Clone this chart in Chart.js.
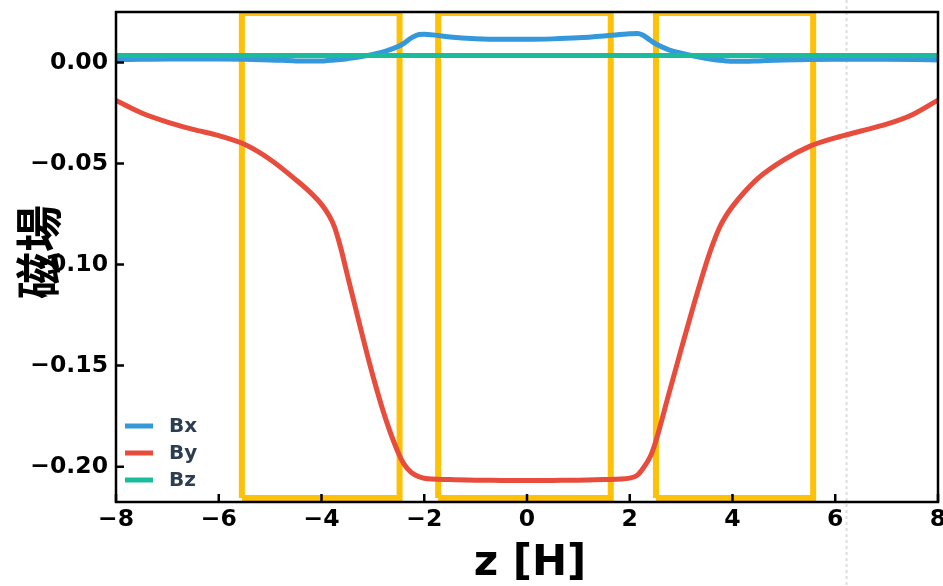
<!DOCTYPE html>
<html>
<head>
<meta charset="utf-8">
<script src="https://cdn.jsdelivr.net/npm/chart.js@4.4.1/dist/chart.umd.min.js"></script>
<style>
  html, body { margin: 0; padding: 0; background: #fff; }
  #wrap { width: 943px; height: 586px; position: relative; }
</style>
</head>
<body>
<div id="wrap"><canvas id="field-chart"></canvas></div>
<script>
// sample positions along z [H]
const zGrid = [-8, -7.5, -7, -6.5, -6, -5.5, -5, -4.5, -4.25, -4, -3.875, -3.75, -3.625, -3.5, -3.25, -3, -2.75,
  -2.5, -2.4, -2.25, -2.1, -2, -1.5, -1, -0.5, 0, 0.5, 1, 1.5, 2, 2.15, 2.25, 2.4, 2.5, 2.75, 3, 3.25, 3.5,
  3.625, 3.75, 3.875, 4, 4.25, 4.5, 5, 5.5, 6, 6.5, 7, 7.5, 8];

const bxValues = [0.0015, 0.0016, 0.0017, 0.0017, 0.0017, 0.0016, 0.0013, 0.0008, 0.0007, 0.0008, 0.0010, 0.0012,
  0.0015, 0.0019, 0.0028, 0.0040, 0.0056,
  0.0080, 0.0095, 0.0122, 0.0139, 0.0140, 0.0126, 0.0118, 0.0115, 0.0115, 0.0117, 0.0122, 0.0131, 0.0142, 0.0144,
  0.0136, 0.0110, 0.0093, 0.0064, 0.0046, 0.0032, 0.0020,
  0.0015, 0.0011, 0.0008, 0.0006, 0.0006, 0.0008, 0.0012, 0.0015, 0.0016, 0.0016, 0.0016, 0.0015, 0.0013];

const byValues = [-0.0188, -0.0250, -0.0295, -0.0331, -0.0362, -0.0405, -0.0480, -0.0580, -0.0635, -0.0702, -0.0748,
  -0.0812, -0.0918, -0.1048, -0.1305, -0.1550, -0.1765,
  -0.1935, -0.1985, -0.2030, -0.2050, -0.2057, -0.2064, -0.2067, -0.2068, -0.2069, -0.2068, -0.2067, -0.2064,
  -0.2057, -0.2042, -0.2012, -0.1950, -0.1880, -0.1650, -0.1420, -0.1195, -0.0985,
  -0.0893, -0.0815, -0.0758, -0.0712, -0.0636, -0.0572, -0.0482, -0.0415, -0.0373, -0.0339, -0.0305, -0.0258, -0.0186];

const bzValues = zGrid.map(() => 0.0035);

const seriesLabels = ['Bx', 'By', 'Bz'];
const seriesColors = ['#3498db', '#e74c3c', '#1abc9c'];

// highlighted regions
const boxLeft = [-5.55, -1.73, 2.51];
const boxRight = [-2.48, 1.63, 5.57];
const boxBottom = -0.2155;
const boxTop = 0.0245;

const guideZ = 6.22;

const xTicks = [-8, -6, -4, -2, 0, 2, 4, 6, 8];
const yTicks = [-0.20, -0.15, -0.10, -0.05, 0.00];

const toPoints = (vals) => zGrid.map((z, i) => ({ x: z, y: vals[i] }));
const minus = (s) => s.replace('-', '\u2212');

const curveSets = [bxValues, byValues, bzValues].map((vals, i) => ({
  label: seriesLabels[i],
  data: toPoints(vals),
  borderColor: seriesColors[i],
  borderWidth: 5,
  pointRadius: 0,
  cubicInterpolationMode: 'monotone',
  order: i === 2 ? 1 : (i === 1 ? 2 : 3)
}));

const boxSets = boxLeft.map((l, i) => ({
  label: 'box' + i,
  data: [
    { x: l, y: boxBottom }, { x: l, y: boxTop }, { x: boxRight[i], y: boxTop },
    { x: boxRight[i], y: boxBottom }, { x: l, y: boxBottom }
  ],
  borderColor: '#ffc107',
  borderWidth: 6,
  pointRadius: 0,
  tension: 0,
  borderJoinStyle: 'miter',
  order: 10
}));

const framePlugin = {
  id: 'frame',
  beforeDatasetsDraw(chart) {
    const { ctx, scales: { x } } = chart;
    const px = x.getPixelForValue(guideZ);
    ctx.save();
    ctx.strokeStyle = '#dddddd';
    ctx.lineWidth = 2;
    ctx.setLineDash([3, 3]);
    ctx.beginPath();
    ctx.moveTo(px, 0);
    ctx.lineTo(px, chart.height);
    ctx.stroke();
    ctx.restore();
  },
  afterDraw(chart) {
    const { ctx, chartArea: a, scales: { x, y } } = chart;
    ctx.save();
    // spines
    ctx.strokeStyle = '#000';
    ctx.lineWidth = 2.5;
    ctx.strokeRect(a.left, a.top, a.right - a.left, a.bottom - a.top);
    // inward ticks
    ctx.beginPath();
    xTicks.forEach(v => {
      const px = x.getPixelForValue(v);
      ctx.moveTo(px, a.bottom);
      ctx.lineTo(px, a.bottom - 8);
    });
    yTicks.forEach(v => {
      const py = y.getPixelForValue(v);
      ctx.moveTo(a.left, py);
      ctx.lineTo(a.left + 8, py);
    });
    ctx.stroke();

    // legend
    ctx.font = 'bold 20px "DejaVu Sans"';
    ctx.textBaseline = 'middle';
    ctx.textAlign = 'left';
    seriesLabels.forEach((lab, i) => {
      const ly = a.bottom - 76 + i * 27;
      ctx.strokeStyle = seriesColors[i];
      ctx.lineWidth = 5;
      ctx.beginPath();
      ctx.moveTo(a.left + 9, ly);
      ctx.lineTo(a.left + 37, ly);
      ctx.stroke();
      ctx.fillStyle = '#2c3e50';
      ctx.fillText(lab, a.left + 53, ly + 1);
    });

    // axis titles
    ctx.fillStyle = '#000';
    ctx.font = 'bold 42px "DejaVu Sans"';
    ctx.textAlign = 'center';
    ctx.textBaseline = 'alphabetic';
    ctx.fillText('z [H]', (a.left + a.right) / 2 + 3, 575);

    ctx.translate(38, (a.top + a.bottom) / 2 - 5);
    ctx.rotate(-Math.PI / 2);
    ctx.font = 'bold 47px "Noto Sans CJK SC"';
    ctx.textBaseline = 'middle';
    ctx.fillText('磁場', 0, 0);
    ctx.restore();
  }
};

const tickFont = { family: 'DejaVu Sans', size: 23.5, weight: 'bold' };

new Chart(document.getElementById('field-chart'), {
  type: 'line',
  data: { datasets: [...curveSets, ...boxSets] },
  options: {
    responsive: true,
    maintainAspectRatio: false,
    animation: false,
    layout: { padding: { left: 0, right: 5, top: 12, bottom: 0 } },
    plugins: { legend: { display: false }, tooltip: { enabled: false } },
    scales: {
      x: {
        type: 'linear',
        min: -8,
        max: 8,
        afterBuildTicks: (s) => { s.ticks = xTicks.map(v => ({ value: v })); },
        afterFit: (s) => { s.height = 84; s.paddingLeft = 0; s.paddingRight = 0; },
        grid: { display: false, drawTicks: false },
        border: { display: false },
        ticks: {
          color: '#000',
          font: tickFont,
          padding: 4,
          maxRotation: 0,
          callback: (v) => minus(String(v))
        }
      },
      y: {
        type: 'linear',
        min: -0.2175,
        max: 0.025,
        afterBuildTicks: (s) => { s.ticks = yTicks.map(v => ({ value: v })); },
        afterFit: (s) => { s.width = 116; s.paddingTop = 0; s.paddingBottom = 0; },
        grid: { display: false, drawTicks: false },
        border: { display: false },
        ticks: {
          color: '#000',
          font: tickFont,
          padding: 8,
          callback: (v) => minus(v.toFixed(2))
        }
      }
    }
  },
  plugins: [framePlugin]
});
</script>
</body>
</html>
